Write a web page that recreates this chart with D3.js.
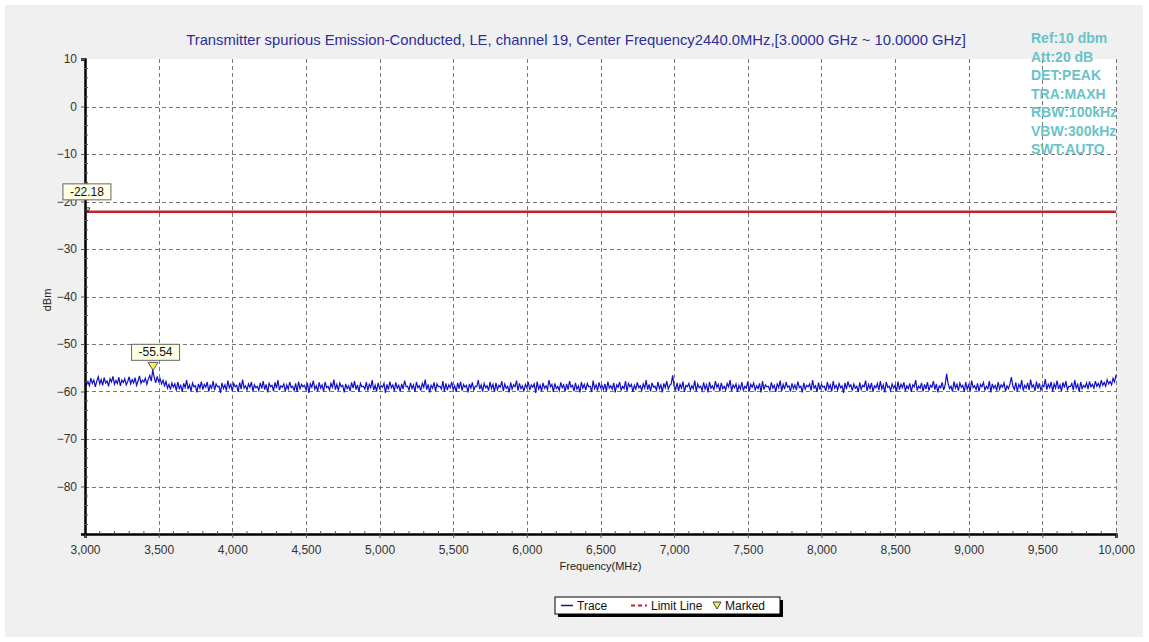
<!DOCTYPE html>
<html><head><meta charset="utf-8">
<script src="https://cdn.jsdelivr.net/npm/d3@7/dist/d3.min.js"></script>
<style>body{margin:0;background:#fff;font-family:"Liberation Sans",Arial,sans-serif}</style>
</head><body>
<svg id="c" width="1149" height="642"></svg>
<script>
const titleText = "Transmitter spurious Emission-Conducted, LE, channel 19, Center Frequency2440.0MHz,[3.0000 GHz ~ 10.0000 GHz]";
const infoLines = ["Ref:10 dbm","Att:20 dB","DET:PEAK","TRA:MAXH","RBW:100kHz","VBW:300kHz","SWT:AUTO"];
const xTicks = [3000,3500,4000,4500,5000,5500,6000,6500,7000,7500,8000,8500,9000,9500,10000];
const yTicks = [10,0,-10,-20,-30,-40,-50,-60,-70,-80];
const xDomain = [3000,10000];
const yDomain = [-90,10];
const limitLevel = -22.18;
const freqStart = 3000, freqStep = 10;
const traceValues = [
-57.4,-58.6,-57.9,-58.8,-57.2,-58.3,-57.6,-59.0,-57.8,-56.9,-58.4,-57.5,-58.7,-57.1,-58.2,-57.8,-58.9,-57.3,-58.0,-56.8,
-58.5,-57.7,-58.3,-57.0,-58.8,-57.6,-58.1,-57.3,-58.6,-57.9,-56.9,-58.4,-57.5,-58.2,-57.1,-58.7,-57.8,-56.7,-58.3,-57.6,
-58.0,-57.2,-58.5,-57.4,-56.6,-57.8,-55.5,-57.0,-58.2,-56.8,-57.9,-57.3,-58.4,-57.6,-58.8,-57.9,-59.3,-58.5,-59.6,-58.2,
-59.1,-58.4,-59.8,-58.0,-59.4,-58.7,-60.1,-58.3,-59.2,-57.6,-59.5,-58.6,-59.9,-58.2,-59.0,-58.8,-60.2,-58.4,-59.3,-57.9,
-59.6,-58.5,-59.1,-58.0,-60.0,-58.7,-59.3,-57.8,-59.7,-58.4,-59.0,-58.9,-60.3,-58.2,-59.4,-58.6,-59.8,-57.7,-59.2,-58.5,
-59.9,-58.3,-59.0,-58.7,-60.1,-58.1,-59.5,-57.5,-59.3,-58.8,-59.7,-58.4,-59.1,-58.0,-60.0,-58.6,-59.2,-58.9,-59.8,-58.2,
-59.4,-57.8,-59.6,-58.5,-60.2,-58.3,-59.0,-58.7,-59.9,-58.1,-59.3,-57.6,-59.7,-58.8,-59.1,-58.4,-60.0,-58.6,-59.5,-58.0,
-59.2,-58.9,-59.8,-58.3,-60.1,-57.9,-59.4,-58.5,-59.0,-58.7,-59.6,-58.2,-60.3,-58.4,-59.1,-57.7,-59.5,-58.8,-59.9,-58.1,
-59.3,-58.6,-60.0,-58.0,-59.2,-58.9,-59.7,-58.3,-59.1,-57.5,-59.6,-58.5,-59.8,-58.2,-59.0,-58.7,-60.2,-58.4,-59.4,-58.8,
-59.9,-58.1,-59.3,-57.8,-59.6,-58.6,-60.1,-58.3,-59.0,-58.9,-59.5,-58.0,-59.8,-58.5,-59.2,-57.6,-59.7,-58.7,-60.0,-58.2,
-59.4,-58.8,-59.1,-58.3,-60.3,-58.5,-59.6,-57.9,-59.2,-58.6,-59.9,-58.1,-59.3,-58.7,-60.0,-58.4,-59.5,-57.7,-59.0,-58.9,
-59.7,-58.2,-59.4,-58.6,-60.1,-58.0,-59.2,-58.8,-59.8,-58.3,-59.1,-57.5,-59.6,-58.5,-60.2,-58.7,-59.3,-58.1,-59.9,-58.4,
-59.0,-58.9,-59.5,-57.8,-60.0,-58.3,-59.7,-58.6,-59.2,-58.0,-59.6,-58.8,-60.1,-58.2,-59.4,-57.9,-59.8,-58.5,-59.1,-58.7,
-60.2,-58.4,-59.3,-58.1,-59.7,-58.9,-59.0,-57.6,-59.5,-58.6,-60.0,-58.3,-59.2,-58.8,-59.8,-58.0,-59.4,-58.5,-60.1,-58.2,
-59.6,-58.7,-59.1,-57.8,-59.9,-58.4,-59.3,-58.9,-60.2,-58.1,-59.5,-58.6,-59.0,-57.7,-59.8,-58.3,-59.4,-58.8,-60.0,-58.5,
-59.2,-58.0,-59.7,-58.6,-59.1,-58.4,-60.3,-57.9,-59.5,-58.7,-59.9,-58.2,-59.3,-58.8,-59.6,-57.6,-59.0,-58.5,-60.1,-58.3,
-59.4,-58.9,-59.8,-58.1,-59.2,-58.6,-60.0,-58.4,-59.6,-57.8,-59.1,-58.7,-59.9,-58.2,-59.5,-58.8,-60.2,-58.0,-59.3,-58.5,
-59.7,-58.3,-59.0,-58.9,-60.1,-57.7,-59.4,-58.6,-59.8,-58.1,-59.2,-58.7,-59.6,-58.4,-60.0,-57.9,-59.3,-58.8,-59.5,-58.2,
-60.2,-58.6,-59.1,-58.0,-59.7,-58.9,-59.4,-57.8,-59.9,-58.3,-59.0,-58.5,-60.1,-58.7,-59.5,-58.1,-59.2,-58.8,-59.8,-58.4,
-59.3,-57.6,-59.6,-58.5,-60.0,-58.2,-59.1,-58.9,-59.7,-58.0,-59.4,-58.6,-60.2,-58.3,-59.2,-57.8,-59.5,-58.7,-58.4,-56.6,
-58.9,-59.6,-58.2,-59.9,-58.5,-59.3,-57.9,-60.1,-58.7,-59.0,-58.3,-59.7,-58.8,-59.4,-57.7,-60.0,-58.4,-59.2,-58.9,-59.8,
-58.1,-59.5,-58.6,-60.2,-58.0,-59.3,-58.8,-59.6,-57.8,-59.1,-58.5,-60.0,-58.2,-59.4,-58.9,-59.7,-58.3,-59.0,-57.6,-59.9,
-58.6,-59.2,-58.4,-60.1,-58.7,-59.5,-58.0,-59.8,-58.9,-59.3,-57.9,-60.0,-58.5,-59.1,-58.2,-59.7,-58.8,-59.4,-58.3,-60.2,
-57.8,-59.6,-58.6,-59.0,-58.9,-59.8,-58.1,-59.3,-58.7,-60.1,-58.4,-59.2,-57.7,-59.9,-58.5,-59.5,-58.0,-59.1,-58.8,-60.0,
-58.3,-59.4,-58.6,-59.7,-57.9,-59.2,-58.9,-60.2,-58.2,-59.5,-58.7,-59.0,-58.4,-59.8,-57.6,-59.3,-58.8,-60.1,-58.1,-59.6,
-58.5,-59.1,-58.9,-59.9,-58.0,-59.4,-58.6,-60.0,-57.8,-59.3,-58.7,-59.7,-58.3,-59.2,-58.8,-60.3,-58.2,-59.5,-57.9,-59.0,
-58.6,-59.8,-58.4,-59.3,-58.9,-60.1,-58.1,-59.6,-58.7,-59.0,-57.7,-59.9,-58.5,-59.4,-58.2,-60.0,-58.8,-59.2,-58.3,-59.7,
-57.8,-59.5,-58.6,-60.2,-58.0,-59.1,-58.9,-59.8,-58.4,-59.3,-58.7,-60.0,-57.9,-59.6,-58.5,-59.2,-58.1,-59.9,-58.8,-59.4,
-58.3,-60.1,-58.6,-59.0,-57.6,-59.7,-58.9,-59.3,-58.2,-60.0,-58.5,-59.5,-58.0,-59.8,-58.7,-59.1,-57.8,-59.6,-58.4,-60.2,
-58.8,-59.2,-58.1,-59.7,-58.6,-56.3,-58.3,-59.4,-58.9,-60.0,-57.9,-59.3,-58.5,-59.8,-58.2,-59.1,-58.7,-60.1,-58.0,-59.5,
-58.6,-59.9,-57.7,-59.2,-58.8,-59.6,-58.3,-60.0,-58.5,-59.0,-58.1,-59.7,-58.9,-59.4,-57.8,-60.2,-58.4,-59.3,-58.7,-59.8,
-58.0,-59.5,-58.6,-59.1,-58.2,-59.9,-58.8,-59.4,-58.4,-57.0,-58.9,-59.6,-58.1,-60.0,-58.5,-59.2,-57.6,-59.8,-58.7,-59.3,
-58.2,-59.7,-57.5,-59.1,-58.6,-59.9,-57.9,-59.4,-58.3,-59.8,-58.7,-59.0,-57.4,-59.6,-58.5,-59.2,-58.0,-60.0,-58.4,-59.3,
-57.7,-59.5,-58.6,-59.9,-58.1,-59.2,-57.8,-59.6,-58.9,-59.0,-58.3,-59.7,-57.6,-59.3,-58.5,-60.1,-58.0,-59.4,-58.7,-59.1,
-58.2,-59.5,-57.9,-59.0,-58.5,-59.3,-57.8,-58.9,-58.3,-59.1,-57.6,-58.7,-58.1,-58.9,-57.5,-58.4,-57.9,-58.6,-57.2,-58.0,
-56.5
];
const markerFreqs = [3020, 3462];
const markerValues = [-22.18, -55.54];
const legendLabels = ["Trace","Limit Line","Marked"];

const svg = d3.select("#c");
const M = {left:85, right:1116, top:59, bottom:534};
const x = d3.scaleLinear().domain(xDomain).range([M.left, M.right]);
const y = d3.scaleLinear().domain(yDomain).range([M.bottom, M.top]);

// background panel
svg.append("rect").attr("x",5).attr("y",5).attr("width",1138).attr("height",632).attr("fill","#f0f0f0");
svg.append("rect").attr("x",M.left).attr("y",M.top).attr("width",M.right-M.left).attr("height",M.bottom-M.top).attr("fill","#fff");

// grid
const g = svg.append("g");
g.selectAll(".vg").data(xTicks.filter(d=>d>xDomain[0])).join("line")
  .attr("x1",d=>Math.round(x(d))+0.5).attr("x2",d=>Math.round(x(d))+0.5)
  .attr("y1",M.top).attr("y2",M.bottom)
  .attr("stroke","#777").attr("stroke-dasharray","4,3").attr("stroke-width",1);
g.selectAll(".hg").data(yTicks.filter(d=>d<yDomain[1])).join("line")
  .attr("y1",d=>Math.round(y(d))+0.5).attr("y2",d=>Math.round(y(d))+0.5)
  .attr("x1",M.left).attr("x2",M.right)
  .attr("stroke","#777").attr("stroke-dasharray","4,3").attr("stroke-width",1);

// limit line
svg.append("line").attr("x1",M.left).attr("x2",M.right)
  .attr("y1",y(limitLevel)).attr("y2",y(limitLevel))
  .attr("stroke","#c0272d").attr("stroke-width",2.5);

// trace
const traceData = traceValues.map((v,i)=>[freqStart+i*freqStep, v]);
svg.append("path").datum(traceData)
  .attr("d", d3.line().x(d=>x(d[0])).y(d=>y(d[1])))
  .attr("fill","none").attr("stroke","#1010c8").attr("stroke-width",1.2);

// axes
const yAxis = d3.axisLeft(y).tickValues(yTicks).tickSize(4).tickPadding(4).tickFormat(d3.format("d"));
const yA = svg.append("g").attr("transform",`translate(${M.left},0)`).call(yAxis);
const xAxis = d3.axisBottom(x).tickValues(xTicks).tickSize(4).tickPadding(7).tickFormat(d3.format(","));
const xA = svg.append("g").attr("transform",`translate(0,${M.bottom})`).call(xAxis);
[yA,xA].forEach(a=>{
  a.select(".domain").attr("stroke","#000").attr("stroke-width",2.5);
  a.selectAll("text").attr("fill","#333").style("font-size","12px").style("font-family","'Liberation Sans',Arial,sans-serif");
  a.selectAll(".tick line").attr("stroke","#555");
});
// minor ticks
const yMinor = d3.range(yDomain[0], yDomain[1]+0.01, 2).filter(d=>d%10!==0);
svg.append("g").selectAll("line").data(yMinor).join("line")
  .attr("x1",M.left).attr("x2",M.left+3).attr("y1",d=>y(d)).attr("y2",d=>y(d)).attr("stroke","#555");
const xMinor = d3.range(xDomain[0], xDomain[1]+1, 100).filter(d=>d%500!==0);
svg.append("g").selectAll("line").data(xMinor).join("line")
  .attr("x1",d=>x(d)).attr("x2",d=>x(d)).attr("y1",M.bottom).attr("y2",M.bottom-3).attr("stroke","#555");

// axis titles
svg.append("text").attr("x",(M.left+M.right)/2).attr("y",570).attr("text-anchor","middle")
  .attr("fill","#222").style("font-size","11px").text("Frequency(MHz)");
svg.append("text").attr("transform","translate(51,300) rotate(-90)").attr("text-anchor","middle")
  .attr("fill","#222").style("font-size","11px").text("dBm");

// title
svg.append("text").attr("x",576).attr("y",45).attr("text-anchor","middle")
  .attr("fill","#2d2d9c").style("font-size","14.8px").text(titleText);

// info
svg.append("g").selectAll("text").data(infoLines).join("text")
  .attr("x",1031).attr("y",(d,i)=>43+i*18.5)
  .attr("fill","#6ac3c6").style("font-size","14px").style("font-weight","bold").text(d=>d);

// markers
markerFreqs.forEach((f,i)=>{
  const mx = x(f), my = y(markerValues[i]);
  const mg = svg.append("g");
  if(i===0){
    mg.append("path").attr("d",`M${mx-2},${my-4}L${mx+2},${my-4}L${mx},${my}Z`).attr("fill","none").attr("stroke","#333").attr("stroke-width",1);
  } else {
    mg.append("path").attr("d",`M${mx-5},${my-8}L${mx+5},${my-8}L${mx},${my}Z`).attr("fill","#f3f35a").attr("stroke","#555").attr("stroke-width",1);
  }
  const label = markerValues[i].toFixed(2);
  const bw = 48, bh = 16;
  const cx = i===0 ? mx-1 : mx+2.5;
  const by = my - 10 - bh - (i===0 ? 2 : 0);
  mg.append("rect").attr("x",cx-bw/2).attr("y",by).attr("width",bw).attr("height",bh)
    .attr("fill","#ffffe6").attr("stroke","#666").attr("stroke-width",1);
  mg.append("text").attr("x",cx).attr("y",by+12).attr("text-anchor","middle")
    .attr("fill","#111").style("font-size","12px").text(label);
});

// legend
const lg = svg.append("g").attr("transform","translate(555,597)");
lg.append("rect").attr("x",3).attr("y",3).attr("width",225).attr("height",17).attr("fill","#000");
lg.append("rect").attr("x",0).attr("y",0).attr("width",225).attr("height",17).attr("fill","#fff").attr("stroke","#000");
lg.append("line").attr("x1",6).attr("x2",18).attr("y1",8.5).attr("y2",8.5).attr("stroke","#1a1a66").attr("stroke-width",1.5);
lg.append("text").attr("x",22).attr("y",13).style("font-size","12px").attr("fill","#111").text(legendLabels[0]);
lg.append("line").attr("x1",76).attr("x2",92).attr("y1",8.5).attr("y2",8.5).attr("stroke","#c0272d").attr("stroke-width",2).attr("stroke-dasharray","4,3");
lg.append("text").attr("x",96).attr("y",13).style("font-size","12px").attr("fill","#111").text(legendLabels[1]);
lg.append("path").attr("d","M158,5L166,5L162,12Z").attr("fill","#f3f35a").attr("stroke","#444");
lg.append("text").attr("x",170).attr("y",13).style("font-size","12px").attr("fill","#111").text(legendLabels[2]);
</script>
</body></html>
